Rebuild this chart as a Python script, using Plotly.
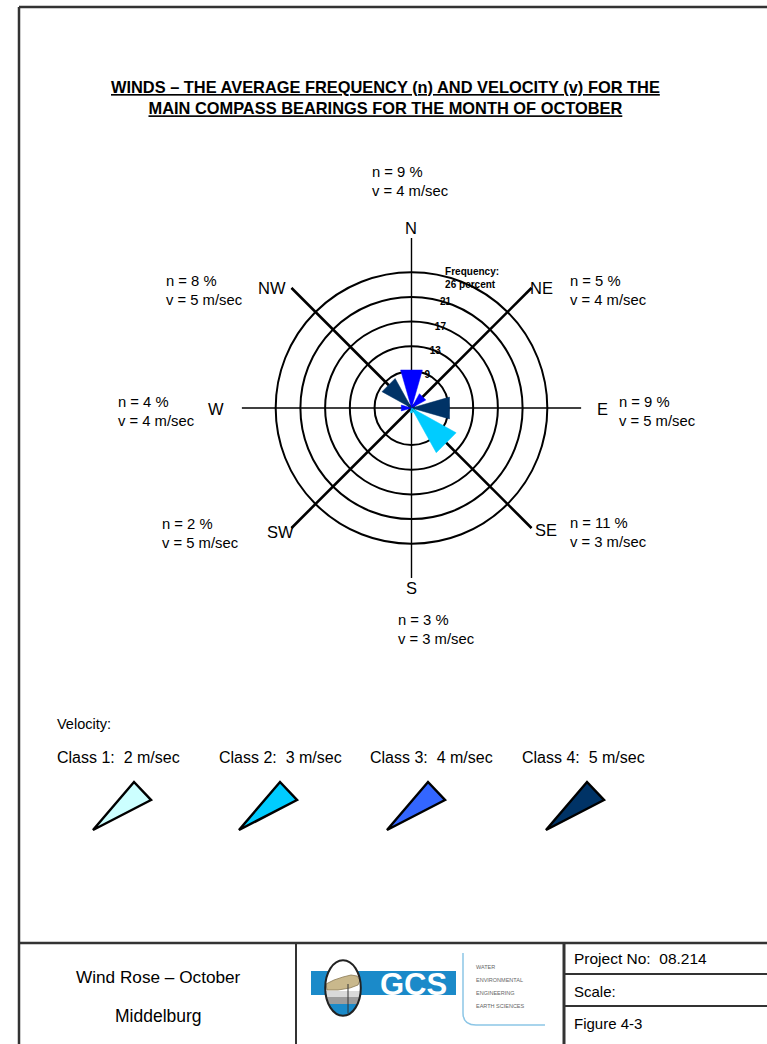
import numpy as np
import plotly.graph_objects as go

# ---------------------------------------------------------------- data
DIRECTIONS = ["N", "NE", "E", "SE", "S", "SW", "W", "NW"]
BEARINGS = [0, 45, 90, 135, 180, 225, 270, 315]
FREQUENCY_PCT = [9, 5, 9, 11, 3, 2, 4, 8]          # n, percent of time
VELOCITY_MS = [4, 4, 5, 3, 3, 5, 4, 5]              # v, m/sec
CLASS_SPEEDS = [2, 3, 4, 5]                         # velocity classes, m/sec
RING_VALUES = [8.56, 12.84, 17.12, 21.40, 25.68]    # frequency rings, percent
RING_LABELS = ["9", "13", "17", "21", "Frequency:<br>26 percent"]

# ---------------------------------------------------------------- styling
W, H = 767, 1044
FONT = "Liberation Sans, Arial, sans-serif"
LEGEND_COLORS = ["#ccffff", "#00ccff", "#3366ff", "#003366"]
PETAL_COLORS = ["#ccffff", "#00ccff", "#0000ff", "#003366"]
R_MIN, R_MAX = 2.16, 31.6          # radial range of the rose (percent)
HALF_WIDTH = 16                    # half opening angle of a petal, degrees
CENTER = (411.5, 408)              # rose centre, px
RADIUS_PX = 170
LABEL_AXIS_ANGLE = 78              # where the ring labels sit, degrees from east


def px(x):
    return x / W


def py(y):
    return 1 - y / H


def poly(points):
    return "M " + " L ".join(f"{px(a):.5f},{py(b):.5f}" for a, b in points) + " Z"


fig = go.Figure()

# compass lines (cardinal thin, diagonals heavier)
for b in BEARINGS:
    fig.add_trace(go.Scatterpolar(
        r=[R_MIN, R_MAX], theta=[b, b], mode="lines",
        line=dict(color="black", width=1.4 if b % 90 == 0 else 2.6),
        hoverinfo="skip", showlegend=False))

# petals: one wedge per bearing, coloured by velocity class
for d, b, n, v in zip(DIRECTIONS, BEARINGS, FREQUENCY_PCT, VELOCITY_MS):
    color = PETAL_COLORS[CLASS_SPEEDS.index(v)]
    fig.add_trace(go.Scatterpolar(
        r=[R_MIN, n, n, R_MIN],
        theta=[b, b - HALF_WIDTH, b + HALF_WIDTH, b],
        mode="lines", fill="toself", fillcolor=color,
        line=dict(color=color, width=0.5),
        name=d, hoverinfo="skip", showlegend=False))

cx, cy = CENTER
fig.update_layout(
    width=W, height=H,
    margin=dict(l=0, r=0, t=0, b=0),
    paper_bgcolor="white",
    showlegend=False,
    font=dict(family=FONT, color="black"),
    polar=dict(
        domain=dict(x=[px(cx - RADIUS_PX), px(cx + RADIUS_PX)],
                    y=[py(cy + RADIUS_PX), py(cy - RADIUS_PX)]),
        bgcolor="rgba(0,0,0,0)",
        radialaxis=dict(
            range=[R_MIN, R_MAX], tickvals=RING_VALUES, ticktext=RING_LABELS,
            showgrid=True, gridcolor="black", gridwidth=2.3,
            showline=False, ticks="", angle=LABEL_AXIS_ANGLE,
            tickangle=LABEL_AXIS_ANGLE, side="clockwise",
            tickfont=dict(size=10, family=FONT, color="black", weight="bold")),
        angularaxis=dict(
            rotation=90, direction="clockwise",
            tickvals=BEARINGS, showticklabels=False,
            showgrid=False, showline=False, ticks=""),
    ),
)

annotations = []
shapes = []

# title
annotations.append(dict(
    x=px(385), y=py(97), xref="paper", yref="paper",
    text="<b><u>WINDS – THE AVERAGE FREQUENCY (n) AND VELOCITY (v) FOR THE</u>"
         "<br><u>MAIN COMPASS BEARINGS FOR THE MONTH OF OCTOBER</u></b>",
    showarrow=False, font=dict(size=16.4, family=FONT), align="center",
    xanchor="center", yanchor="middle"))

# compass point names
DIR_POS = {
    "N": (411, 228), "NE": (541, 288), "E": (602, 409), "SE": (546, 530),
    "S": (411, 588), "SW": (280, 532), "W": (216, 409), "NW": (272, 288),
}
for d in DIRECTIONS:
    x, y = DIR_POS[d]
    annotations.append(dict(
        x=px(x), y=py(y), xref="paper", yref="paper", text=d, showarrow=False,
        font=dict(size=16.5, family=FONT), xanchor="center", yanchor="middle"))

# n / v labels around the rose
LABEL_POS = {
    "N": (370, 181), "NE": (568, 290), "E": (617, 411), "SE": (568, 532),
    "S": (396, 629), "SW": (160, 533), "W": (116, 411), "NW": (164, 290),
}
for d, n, v in zip(DIRECTIONS, FREQUENCY_PCT, VELOCITY_MS):
    x, y = LABEL_POS[d]
    annotations.append(dict(
        x=px(x), y=py(y), xref="paper", yref="paper",
        text=f"n = {n} %<br>v = {v} m/sec", showarrow=False,
        font=dict(size=14.8, family=FONT), align="left",
        xanchor="left", yanchor="middle"))

# velocity legend
annotations.append(dict(
    x=px(55), y=py(724), xref="paper", yref="paper", text="Velocity:",
    showarrow=False, font=dict(size=14.5, family=FONT),
    xanchor="left", yanchor="middle"))
LEGEND_X = [55, 217, 368, 520]
TIP_X = [93, 239, 387, 546]
for i, (speed, color) in enumerate(zip(CLASS_SPEEDS, LEGEND_COLORS)):
    annotations.append(dict(
        x=px(LEGEND_X[i]), y=py(757), xref="paper", yref="paper",
        text=f"Class {i + 1}:  {speed} m/sec", showarrow=False,
        font=dict(size=16, family=FONT), xanchor="left", yanchor="middle"))
    tx = TIP_X[i]
    pts = [(tx, 830), (tx + 41, 782), (tx + 58, 800)]
    shapes.append(dict(type="path", path=poly(pts), xref="paper", yref="paper",
                       fillcolor=color, line=dict(color="black", width=2.5)))

# page frame and title block
FRAME = "#333333"
frame_lines = [
    ((19, 7), (W, 7), 2.5), ((19, 7), (19, H), 2.5),
    ((19, 943), (W, 943), 2.5),
    ((296, 943), (296, H), 2), ((564, 943), (564, H), 3),
    ((564, 974), (W, 974), 2), ((564, 1006), (W, 1006), 2),
]
for (x0, y0), (x1, y1), w in frame_lines:
    shapes.append(dict(type="line", xref="paper", yref="paper",
                       x0=px(x0), y0=py(y0), x1=px(x1), y1=py(y1),
                       line=dict(color=FRAME, width=w)))

block_text = [
    ("Wind Rose – October", 158, 977, "center", 17.2),
    ("Middelburg", 158, 1016, "center", 17.5),
    ("Project No:  08.214", 572, 958, "left", 15.5),
    ("Scale:", 572, 991, "left", 15),
    ("Figure 4-3", 572, 1023, "left", 15),
]
for t, x, y, anchor, size in block_text:
    annotations.append(dict(
        x=px(x), y=py(y), xref="paper", yref="paper", text=t, showarrow=False,
        font=dict(size=size, family=FONT), xanchor=anchor, yanchor="middle"))

# company logo
LOGO_BLUE = "#1b8ac9"
shapes.append(dict(type="rect", xref="paper", yref="paper",
                   x0=px(311), x1=px(456), y0=py(995), y1=py(971),
                   fillcolor=LOGO_BLUE, line=dict(width=0)))
ex, ey, ea, eb = 343, 988, 17.8, 27.7
shapes.append(dict(type="circle", xref="paper", yref="paper",
                   x0=px(ex - ea), x1=px(ex + ea), y0=py(ey + eb), y1=py(ey - eb),
                   fillcolor="white", line=dict(width=0)))


def ellipse_band(y0, y1):
    ys = np.linspace(y0, y1, 12)
    half = ea * np.sqrt(np.clip(1 - ((ys - ey) / eb) ** 2, 0, 1))
    left = [(ex - h, yy) for h, yy in zip(half, ys)]
    right = [(ex + h, yy) for h, yy in zip(half[::-1], ys[::-1])]
    return poly(left + right)


for (y0, y1, col) in [(991, 997, "#d9d9d9"), (997, 1004, "#9c9c9c"),
                      (1004, ey + eb, LOGO_BLUE)]:
    shapes.append(dict(type="path", path=ellipse_band(y0, y1),
                       xref="paper", yref="paper", fillcolor=col, line=dict(width=0)))
hill = [(326, 984), (334, 980), (343, 977), (351, 975), (357, 976), (360, 980),
        (358, 985), (350, 988), (338, 990), (327, 990)]
shapes.append(dict(type="path", xref="paper", yref="paper", path=poly(hill),
                   fillcolor="#c9b88c", line=dict(color="#8a7a55", width=0.8)))
shapes.append(dict(type="line", xref="paper", yref="paper",
                   x0=px(348), x1=px(348), y0=py(984), y1=py(1013),
                   line=dict(color="#333333", width=1)))
shapes.append(dict(type="circle", xref="paper", yref="paper",
                   x0=px(ex - ea), x1=px(ex + ea), y0=py(ey + eb), y1=py(ey - eb),
                   fillcolor="rgba(0,0,0,0)", line=dict(color="#222222", width=2)))
annotations.append(dict(
    x=px(413), y=py(984), xref="paper", yref="paper", text="<b>GCS</b>",
    showarrow=False, font=dict(size=31, family=FONT, color="white"),
    xanchor="center", yanchor="middle"))
curve = (f"M {px(463):.5f},{py(953):.5f} L {px(463):.5f},{py(1013):.5f} "
         f"Q {px(463):.5f},{py(1025):.5f} {px(476):.5f},{py(1025):.5f} "
         f"L {px(545):.5f},{py(1025):.5f}")
shapes.append(dict(type="path", path=curve, xref="paper", yref="paper",
                   line=dict(color="#8cc6e6", width=1.5)))
for t, y in [("WATER", 967), ("ENVIRONMENTAL", 980), ("ENGINEERING", 993),
             ("EARTH SCIENCES", 1006)]:
    annotations.append(dict(
        x=px(474), y=py(y), xref="paper", yref="paper", text=t, showarrow=False,
        font=dict(size=5.5, family=FONT, color="#666666"),
        xanchor="left", yanchor="middle"))

fig.update_layout(annotations=annotations, shapes=shapes)
fig.write_html("out.html")
